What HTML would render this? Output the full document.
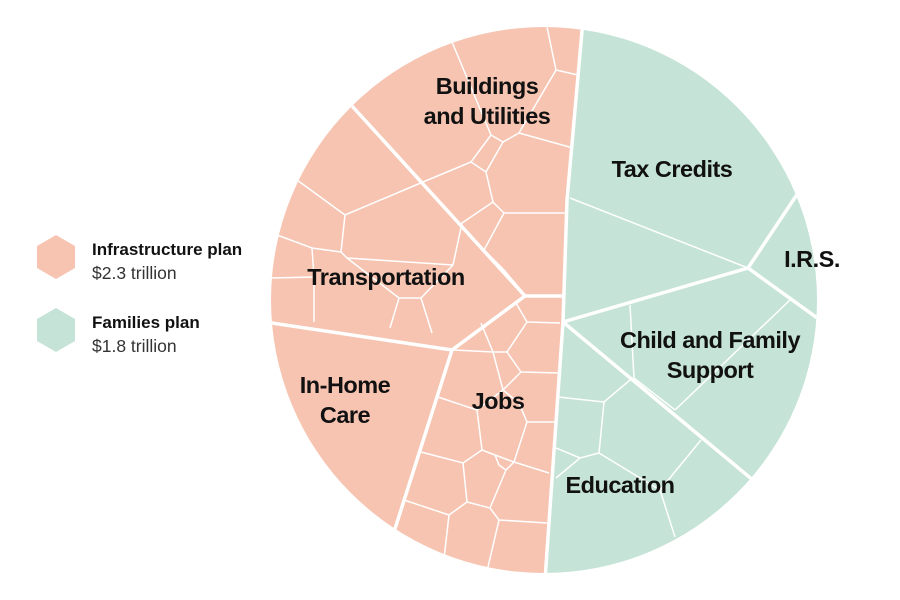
<!DOCTYPE html>
<html><head><meta charset="utf-8"><style>
body{margin:0;background:#fff;width:900px;height:600px;overflow:hidden;font-family:"Liberation Sans",sans-serif}
svg{display:block}
.lbl{font-family:"Liberation Sans",sans-serif;font-weight:bold;font-size:23.5px;fill:#111;text-anchor:middle;letter-spacing:-0.5px}
</style></head><body>
<svg id="chart" width="900" height="600">
<defs><clipPath id="circ"><circle cx="544" cy="300" r="273"/></clipPath></defs>
<g id="cells" clip-path="url(#circ)"></g>
<g id="labels"></g>
<g id="legend"></g>
</svg>
<script>
const plans = ["Infrastructure plan", "Families plan"];
const planTotals = [2.3, 1.8];
const planColors = ["#f6c4b1", "#c5e3d6"];
const categories = ["Buildings and Utilities","Transportation","In-Home Care","Jobs","Tax Credits","I.R.S.","Child and Family Support","Education"];
const categoryPlan = [0,0,0,0,1,1,1,1];
const categoryValues = [0.6, 0.6, 0.4, 0.7, 0.8, 0.1, 0.5, 0.5];
// cell geometry (Voronoi layout shape)
const cellShapes = [
 [[300,49],[525,296],[563,296],[567,200],[583,0],[300,0]],
 [[300,49],[525,296],[452,350],[270,322],[240,318],[240,49]],
 [[240,318],[270,322],[452,350],[395,530],[370,600],[240,600]],
 [[452,350],[525,296],[563,296],[563,322],[545,572],[545,600],[370,600],[395,530]],
 [[583,0],[567,200],[563,322],[748,268],[800,190],[850,120],[850,0]],
 [[800,190],[748,268],[815,318],[850,340],[850,120]],
 [[563,322],[748,268],[815,318],[850,340],[850,520],[770,495]],
 [[563,322],[770,495],[850,520],[850,600],[545,600],[545,572]]
];
const subLines = [
 [[452,42],[491,135]],[[547,27],[556,70],[578,75]],[[556,70],[519,133],[573,148]],
 [[491,135],[503,142],[519,133]],[[491,135],[471,162],[423,182]],[[471,162],[486,172]],[[503,142],[486,172],[493,202],[504,213],[567,213]],
 [[493,202],[462,223],[453,265]],[[504,213],[484,250],[504,270],[526,296]],
 [[297,180],[345,215],[423,182]],[[345,215],[341,252],[312,248],[277,235]],[[312,248],[314,277],[271,278]],[[314,277],[314,322]],
 [[341,252],[347,258],[453,265]],[[347,258],[399,298],[421,298],[453,265]],[[399,298],[390,328]],[[421,298],[432,333]],
 [[570,198],[748,268]],
 [[454,350],[493,352],[507,352]],[[481,323],[493,352]],[[516,303],[527,322],[560,323]],[[527,322],[507,352],[521,372],[560,373]],
 [[493,352],[503,390],[519,403],[527,422],[556,422]],[[521,372],[503,390]],
 [[438,397],[477,410],[482,450],[463,463],[421,452]],[[477,410],[503,390]],[[482,450],[495,455],[514,462],[506,470],[499,465],[495,455]],
 [[514,462],[549,473]],[[514,462],[527,422]],
 [[463,463],[467,502],[449,515],[404,500]],[[467,502],[490,508],[499,520],[547,523]],[[490,508],[506,470]],
 [[449,515],[443,567]],[[499,520],[488,567]],
 [[630,305],[634,378],[675,410]],[[790,300],[675,410]],
 [[558,397],[604,402],[630,380]],[[604,402],[599,453],[580,458],[556,448]],[[580,458],[556,478]],
 [[599,453],[660,490],[675,537]],[[660,490],[701,440]]
];
const mainLines = [
 [[583,20],[567,200],[563,322],[545,580]],
 [[352,106],[525,296],[563,296]],[[265,322],[452,350],[525,296]],[[452,350],[393,535]],
 [[563,322],[748,268],[800,190]],[[748,268],[820,320]],[[563,322],[760,486]]
];
const labelText = [["Buildings","and Utilities"],["Transportation"],["In-Home","Care"],["Jobs"],["Tax Credits"],["I.R.S."],["Child and Family","Support"],["Education"]];
const labelPos = [[487,94],[386,285],[345,393],[498,409],[672,177],[812,267],[710,348],[620,493]];
const NS="http://www.w3.org/2000/svg";
const cells=document.getElementById('cells');
const pts=a=>a.map(p=>p.join(',')).join(' ');
categories.forEach((c,i)=>{
 const p=document.createElementNS(NS,'polygon');
 p.setAttribute('points',pts(cellShapes[i]));
 p.setAttribute('fill',planColors[categoryPlan[i]]);
 
 
 cells.appendChild(p);
});
subLines.forEach(l=>{
 const e=document.createElementNS(NS,'polyline');
 e.setAttribute('points',pts(l));e.setAttribute('fill','none');e.setAttribute('stroke','#fff');e.setAttribute('stroke-width','1.5');
 
 
 cells.appendChild(e);
});
mainLines.forEach(l=>{
 const e=document.createElementNS(NS,'polyline');
 e.setAttribute('points',pts(l));e.setAttribute('fill','none');e.setAttribute('stroke','#fff');e.setAttribute('stroke-width','3.5');
 
 
 cells.appendChild(e);
});
const labels=document.getElementById('labels');
labelText.forEach((lines,i)=>{
 const t=document.createElementNS(NS,'text');
 t.setAttribute('class','lbl');
 
 
 lines.forEach((s,j)=>{
  const ts=document.createElementNS(NS,'tspan');
  ts.setAttribute('x',labelPos[i][0]);ts.setAttribute('y',labelPos[i][1]+j*30);
  ts.textContent=s;t.appendChild(ts);
 });
 labels.appendChild(t);
});
const legend=document.getElementById('legend');
plans.forEach((p,i)=>{
 const cy=257+i*73, cx=56;
 const g=document.createElementNS(NS,'g');
 
 
 const h=document.createElementNS(NS,'polygon');
 h.setAttribute('points',pts([[cx,cy-22],[cx+19,cy-11],[cx+19,cy+11],[cx,cy+22],[cx-19,cy+11],[cx-19,cy-11]]));
 h.setAttribute('fill',planColors[i]);
 
 
 g.appendChild(h);
 const t1=document.createElementNS(NS,'text');
 t1.setAttribute('x',92);t1.setAttribute('y',cy-2);
 t1.setAttribute('font-family','Liberation Sans, sans-serif');t1.setAttribute('font-weight','bold');t1.setAttribute('font-size','17');t1.setAttribute('fill','#111');
 
 
 t1.textContent=p;g.appendChild(t1);
 const t2=document.createElementNS(NS,'text');
 t2.setAttribute('x',92);t2.setAttribute('y',cy+22);
 t2.setAttribute('font-family','Liberation Sans, sans-serif');t2.setAttribute('font-size','17.5');t2.setAttribute('fill','#333');
 
 
 t2.textContent='$'+planTotals[i].toFixed(1)+' trillion';g.appendChild(t2);
 legend.appendChild(g);
});
</script>
</body></html>
